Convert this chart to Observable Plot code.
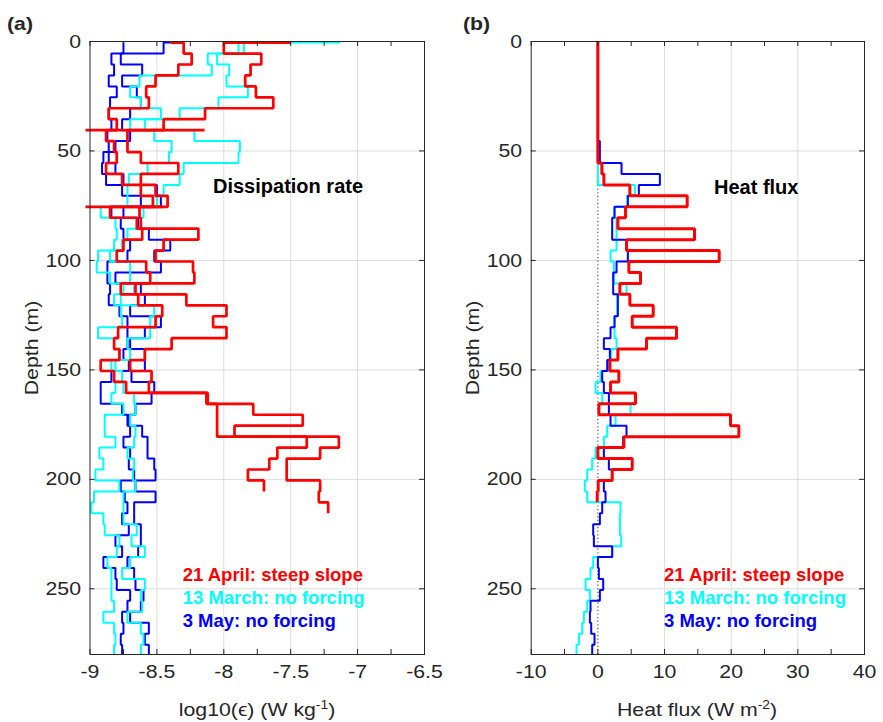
<!DOCTYPE html>
<html>
<head>
<meta charset="utf-8">
<script src="https://cdn.jsdelivr.net/npm/d3@7"></script>
<script src="https://cdn.jsdelivr.net/npm/@observablehq/plot@0.6"></script>
<style>
  html, body { margin: 0; padding: 0; background: #fff; }
  #fig { position: relative; width: 883px; height: 722px; font-family: Arial, "Liberation Sans", Helvetica, sans-serif; color: #262626; overflow: hidden; }
  #fig svg { position: absolute; top: 0; overflow: visible; }
  .t { position: absolute; white-space: nowrap; line-height: 1; }
  .b { font-weight: bold; }
  sup { font-size: 65%; vertical-align: 0.55em; line-height: 0; }
</style>
</head>
<body>
<div id="fig"></div>
<script>
// ---------- DATA ----------
// Depth bins: 5 m wide; element 0 = start of the top step, element i = bin ending at 0.5 + 5*i m
// Panel (a): log10(epsilon), two shear-probe profiles per date
const redA = [-8.40, -8.30, -8.24, -8.34, -8.51, -8.58, -8.56, -8.86, -8.80, -8.88, -8.82, -8.80, -8.88, -8.76, -8.62, -8.53, -8.85, -8.65, -8.61, -8.75, -8.80, -8.58, -8.55, -8.77, -8.64, -8.46, -8.51, -8.79, -8.82, -8.78, -8.92, -8.82, -8.73, -8.13, -8.05, -8.05, -8.05, -7.38, -7.60, -7.66, -7.82, -7.70];
const redB = [-7.50, -8.00, -7.72, -7.80, -7.84, -7.76, -7.63, -8.14, -8.45, -8.72, -8.72, -8.62, -8.34, -8.62, -8.51, -8.42, -8.63, -8.62, -8.19, -8.45, -8.51, -8.23, -8.22, -8.66, -8.28, -7.98, -8.08, -7.98, -8.39, -8.59, -8.70, -8.54, -8.56, -8.12, -7.78, -7.41, -7.92, -7.14, -7.28, -7.53, -7.53, -7.28, -7.29, -7.22];
const redSpikes = [{depth: 40.5, from: -9.03, to: -8.14}, {depth: 75.5, from: -9.03, to: -8.45}];
const cyanA = [-7.13, -7.89, -8.12, -8.09, -8.63, -8.70, -8.62, -8.47, -8.70, -8.52, -8.39, -8.41, -8.57, -8.71, -8.72, -8.72, -8.92, -8.81, -8.80, -8.82, -8.94, -8.95, -8.85, -8.75, -8.82, -8.77, -8.76, -8.94, -8.82, -8.78, -8.84, -8.82, -8.81, -8.84, -8.75, -8.89, -8.89, -8.81, -8.93, -8.90, -8.96, -8.78, -8.97, -8.99, -8.90, -8.89, -8.78, -8.80, -8.87, -8.84, -8.84, -8.84, -8.82, -8.90, -8.82, -8.81, -8.82];
const cyanB = [-7.85, -7.85, -8.05, -7.96, -7.98, -7.82, -8.04, -8.33, -8.59, -8.22, -7.88, -7.89, -8.30, -8.33, -8.45, -8.50, -8.60, -8.62, -8.72, -8.76, -8.85, -8.70, -8.70, -8.67, -8.77, -8.52, -8.55, -8.55, -8.72, -8.70, -8.81, -8.76, -8.75, -8.67, -8.66, -8.70, -8.66, -8.67, -8.72, -8.67, -8.68, -8.66, -8.75, -8.75, -8.75, -8.65, -8.69, -8.59, -8.70, -8.76, -8.59, -8.62, -8.61, -8.72, -8.62, -8.60, -8.62];
const blueA = [-8.75, -8.75, -8.84, -8.82, -8.86, -8.80, -8.85, -8.86, -8.84, -8.87, -8.86, -8.90, -8.91, -8.88, -8.76, -8.62, -8.84, -8.77, -8.75, -8.70, -8.72, -8.87, -8.87, -8.85, -8.86, -8.78, -8.72, -8.72, -8.72, -8.75, -8.71, -8.84, -8.92, -8.92, -8.76, -8.72, -8.70, -8.75, -8.70, -8.71, -8.67, -8.77, -8.74, -8.72, -8.76, -8.71, -8.81, -8.76, -8.90, -8.81, -8.80, -8.70, -8.72, -8.76, -8.75, -8.77, -8.76];
const blueB = [-8.40, -8.45, -8.77, -8.61, -8.76, -8.65, -8.62, -8.70, -8.76, -8.70, -8.81, -8.86, -8.81, -8.75, -8.50, -8.47, -8.75, -8.64, -8.56, -8.40, -8.52, -8.47, -8.81, -8.62, -8.59, -8.70, -8.47, -8.59, -8.70, -8.59, -8.59, -8.69, -8.52, -8.54, -8.66, -8.71, -8.61, -8.57, -8.57, -8.52, -8.51, -8.66, -8.51, -8.67, -8.67, -8.62, -8.62, -8.64, -8.72, -8.67, -8.66, -8.60, -8.62, -8.70, -8.56, -8.59, -8.56];

// Panel (b): heat flux (W m^-2)
const heatRed = [0, 0, 0, 0, 0, 0, 0, 0, 0, 0, 0, 0, 0.6, 0.9, 4.8, 13.4, 4.15, 3.0, 14.5, 4.3, 18.2, 4.65, 6.4, 3.3, 4.8, 8.3, 5.15, 11.8, 7.3, 3.0, 1.8, 3.15, 1.9, 5.65, 0.15, 19.9, 21.15, 3.9, 0.0, 5.15, 2.15, 0.05, -0.1];
const heatBlue = [0, 0, 0, 0, 0, 0, 0, 0, 0, 0, 0.3, 0.3, 3.55, 9.3, 6.15, 4.5, 2.5, 2.15, 2.15, 4.3, 4.5, 2.8, 2.3, 2.3, 3.0, 3.0, 2.5, 1.9, 0.9, 1.8, 1.4, 0.65, 0.9, 1.65, 1.65, 1.9, 4.3, 3.8, 0.9, 1.65, 2.15, 0.9, 1.15, 0.65, 0.3, -0.7, -0.6, 2.15, 0, 0.15, 0.8, 0.3, -1.1, -1.2, -1.0, -0.5, -0.85];
const heatCyan = [0, 0, 0, 0, 0, 0, 0, 0, 0, 0, 0, 0, 0, 0, 5.55, 4.4, 2.5, 2.8, 2.8, 2.8, 1.9, 2.4, 2.4, 4.3, 2.9, 2.9, 2.5, 2.5, 2.8, 2.0, 1.65, 0.4, -0.35, 0.65, 4.9, 2.65, 1.4, 0.9, -0.35, -0.85, -1.6, -1.95, -1.6, 3.4, 3.3, 3.3, 3.5, 2.15, -0.7, -1.1, -1.85, -1.2, -1.6, -2.1, -2.35, -2.85, -3.2];

// Ticks
const xMajorA = [-9, -8.5, -8, -7.5, -7, -6.5];
const xMinorA = [-9, -8.75, -8.5, -8.25, -8, -7.75, -7.5, -7.25, -7, -6.75, -6.5];
const xMajorB = [-10, 0, 10, 20, 30, 40];
const xMinorB = [-10, -5, 0, 5, 10, 15, 20, 25, 30, 35, 40];
const yMajor = [0, 50, 100, 150, 200, 250];

const legendLabels = ["21 April: steep slope", "13 March: no forcing", "3 May: no forcing"];

// ---------- DRAWING ----------
const RED = "#ff0000", CYAN = "#00ffff", BLUE = "#0000ff", AX = "#262626", GRID = "#dcdcdc";
const H = 722, MT = 41, MB = 68, PH = H - MT - MB;
const YMAX = 280;
const WIDE = 1.12; // horizontal widening of the label font

function steps(values, top) {
  return values.map((v, i) => ({x: v, y: Math.min(YMAX, i === 0 ? top : 0.5 + 5 * i)}));
}
function line(values, top, stroke, strokeWidth) {
  return Plot.line(steps(values, top), {x: "x", y: "y", curve: "step-after", stroke, strokeWidth, strokeLinejoin: "miter", strokeLinecap: "butt"});
}
function frameTicks(xTicks, yTicks, PW) {
  return [
    Plot.tickX(xTicks, {x: d => d, insetTop: PH - 5, stroke: AX}),
    Plot.tickX(xTicks, {x: d => d, insetBottom: PH - 5, stroke: AX}),
    Plot.tickY(yTicks, {y: d => d, insetRight: PW - 5, stroke: AX}),
    Plot.tickY(yTicks, {y: d => d, insetLeft: PW - 5, stroke: AX})
  ];
}
const fmt = d => String(d);
const style = {fontFamily: 'Arial, "Liberation Sans", Helvetica, sans-serif', fontSize: "19px", color: AX, background: "transparent", overflow: "visible"};

// Panel (a)
const WA = 441, MLA = 89.5, MRA = 17, PWA = WA - MLA - MRA;
const plotA = Plot.plot({
  width: WA, height: H, marginLeft: MLA, marginRight: MRA, marginTop: MT, marginBottom: MB,
  style,
  x: {domain: [-9, -6.5], axis: null},
  y: {domain: [0, YMAX], reverse: true, axis: null},
  marks: [
    Plot.gridX(xMajorA.slice(1, -1), {stroke: GRID, strokeOpacity: 1}),
    Plot.gridY(yMajor.slice(1), {stroke: GRID, strokeOpacity: 1}),
    line(blueA, 0.5, BLUE, 2), line(blueB, 0.5, BLUE, 2),
    line(cyanA, 0.5, CYAN, 2), line(cyanB, 0.5, CYAN, 2),
    line(redA, 0.5, RED, 2.7), line(redB, 0.5, RED, 2.7),
    Plot.ruleY(redSpikes, {y: "depth", x1: "from", x2: "to", stroke: RED, strokeWidth: 2.7}),
    Plot.frame({stroke: AX}),
    ...frameTicks(xMinorA, yMajor, PWA),
    Plot.axisX({ticks: xMajorA, tickSize: 0, tickPadding: 10, tickFormat: fmt, label: null, fill: AX}),
    Plot.axisY({ticks: yMajor, tickSize: 0, tickPadding: 9, tickFormat: fmt, label: null, fill: AX})
  ]
});

// Panel (b)
const WB = 442, MLB = 89.7, MRB = 19, PWB = WB - MLB - MRB;
const plotB = Plot.plot({
  width: WB, height: H, marginLeft: MLB, marginRight: MRB, marginTop: MT, marginBottom: MB,
  style,
  x: {domain: [-10, 40], axis: null},
  y: {domain: [0, YMAX], reverse: true, axis: null},
  marks: [
    Plot.gridX([10, 20, 30], {stroke: GRID, strokeOpacity: 1}),
    Plot.gridY(yMajor.slice(1), {stroke: GRID, strokeOpacity: 1}),
    Plot.ruleX([0], {stroke: "#555", strokeDasharray: "1.2,2.4", strokeWidth: 1.2}),
    line(heatCyan, 0, CYAN, 2),
    line(heatBlue, 0, BLUE, 2),
    line(heatRed, 0, RED, 3),
    Plot.frame({stroke: AX}),
    ...frameTicks(xMinorB, yMajor, PWB),
    Plot.axisX({ticks: xMajorB, tickSize: 0, tickPadding: 10, tickFormat: fmt, label: null, fill: AX}),
    Plot.axisY({ticks: yMajor, tickSize: 0, tickPadding: 9, tickFormat: fmt, label: null, fill: AX})
  ]
});

// widen the tick-label glyphs around their own anchor
function widen(svg) {
  svg.querySelectorAll('g[aria-label$="tick label"] text').forEach(t => {
    const tr = t.getAttribute("transform");
    if (tr && tr.includes("translate")) {
      t.setAttribute("transform", tr + ` scale(${WIDE},1)`);
    } else {
      const x = +(t.getAttribute("x") || 0), y = +(t.getAttribute("y") || 0);
      t.setAttribute("x", 0); t.setAttribute("y", 0);
      t.setAttribute("transform", `translate(${x},${y}) scale(${WIDE},1)`);
    }
  });
}
widen(plotA); widen(plotB);

const fig = document.getElementById("fig");
plotA.style.left = "0px";
plotB.style.left = WA + "px";
fig.appendChild(plotA);
fig.appendChild(plotB);

function addText(html, css, cls) {
  const d = document.createElement("div");
  d.className = "t " + (cls || "");
  d.innerHTML = html;
  Object.assign(d.style, css);
  fig.appendChild(d);
  return d;
}
// panel letters
addText("(a)", {left: "7px", top: "14px", fontSize: "19px", transformOrigin: "0 0", transform: `scaleX(${WIDE})`}, "b");
addText("(b)", {left: "463px", top: "14px", fontSize: "19px", transformOrigin: "0 0", transform: `scaleX(${WIDE})`}, "b");
// y titles
for (const cx of [31, 31 + WA]) {
  addText("Depth (m)", {left: cx + "px", top: "347.5px", fontSize: "19px", transform: `translate(-50%,-50%) rotate(-90deg) scaleX(${WIDE})`});
}
// x titles
addText("log10(&#1013;) (W kg<sup>-1</sup>)", {left: "256.7px", top: "700px", fontSize: "19px", transform: `translateX(-50%) scaleX(${WIDE})`});
addText("Heat flux (W m<sup>-2</sup>)", {left: "697px", top: "700px", fontSize: "19px", transform: `translateX(-50%) scaleX(${WIDE})`});
// in-panel titles
addText("Dissipation rate", {left: "213px", top: "175.5px", fontSize: "20px", color: "#000"}, "b");
addText("Heat flux", {left: "714px", top: "176.5px", fontSize: "20px", color: "#000"}, "b");
// legends
const legendColors = [RED, CYAN, BLUE];
for (const x0 of [182.7, 664]) {
  legendLabels.forEach((s, i) => {
    addText(s, {left: x0 + "px", top: (565.6 + i * 23) + "px", fontSize: "18.5px", color: legendColors[i]}, "b");
  });
}
</script>
</body>
</html>
